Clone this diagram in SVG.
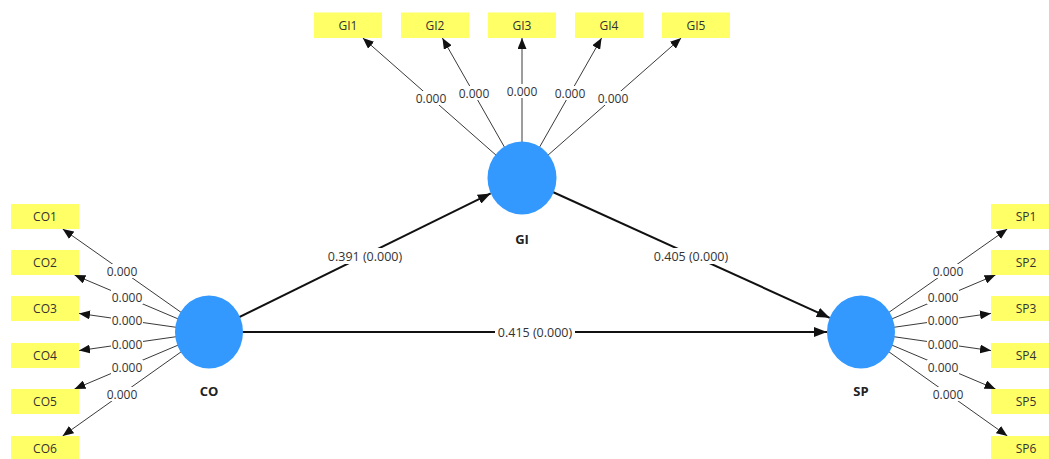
<svg xmlns="http://www.w3.org/2000/svg" width="1049" height="459" viewBox="0 0 1049 459">
<style>
.ind{fill:#ffff66}
.ind-t{font-family:"Open Sans","Noto Sans",sans-serif;font-size:12px;fill:#333;text-anchor:middle;dominant-baseline:central}
.lv{fill:#3399ff}
.lv-t{font-family:"Open Sans","Noto Sans",sans-serif;font-size:13px;font-weight:bold;fill:#222;text-anchor:middle;dominant-baseline:central}
.thin{stroke:#3a3a3a;stroke-width:1;fill:none;marker-end:url(#ah)}
.thick{stroke:#111;stroke-width:2;fill:none;marker-end:url(#ahb)}
.lbl{font-family:"Open Sans","Noto Sans",sans-serif;font-size:12px;fill:#333;text-anchor:middle;dominant-baseline:central}
.plbl{font-family:"Open Sans","Noto Sans",sans-serif;font-size:12.5px;fill:#333;text-anchor:middle;dominant-baseline:central}
.bg{fill:#fff}
</style>
<defs>
<marker id="ah" markerUnits="userSpaceOnUse" markerWidth="11" markerHeight="9" refX="11" refY="4.5" orient="auto">
<path d="M0,0 L11,4.5 L0,9 z" fill="#111"/>
</marker>
<marker id="ahb" markerUnits="userSpaceOnUse" markerWidth="13" markerHeight="10" refX="13" refY="5" orient="auto">
<path d="M0,0 L13,5 L0,10 z" fill="#111"/>
</marker>
</defs>
<rect width="1049" height="459" fill="#fff"/>
<g id="connectors">
<!-- CO indicators -->
<line class="thin" x1="209" y1="332" x2="62.7" y2="229"/>
<line class="thin" x1="209" y1="332" x2="74.5" y2="275"/>
<line class="thin" x1="209" y1="332" x2="79" y2="313.4"/>
<line class="thin" x1="209" y1="332" x2="79" y2="350.6"/>
<line class="thin" x1="209" y1="332" x2="74.5" y2="389"/>
<line class="thin" x1="209" y1="332" x2="62.6" y2="436"/>
<!-- GI indicators -->
<line class="thin" x1="522" y1="178" x2="362.8" y2="38"/>
<line class="thin" x1="522" y1="178" x2="442.4" y2="38"/>
<line class="thin" x1="522" y1="178" x2="522" y2="38"/>
<line class="thin" x1="522" y1="178" x2="601.6" y2="38"/>
<line class="thin" x1="522" y1="178" x2="681.2" y2="38"/>
<!-- SP indicators -->
<line class="thin" x1="861" y1="332" x2="1007.3" y2="229"/>
<line class="thin" x1="861" y1="332" x2="995.5" y2="275"/>
<line class="thin" x1="861" y1="332" x2="991" y2="313.4"/>
<line class="thin" x1="861" y1="332" x2="991" y2="350.6"/>
<line class="thin" x1="861" y1="332" x2="995.5" y2="389"/>
<line class="thin" x1="861" y1="332" x2="1007.4" y2="436"/>
<!-- structural -->
<line class="thick" x1="209" y1="332" x2="490.7" y2="193.4"/>
<line class="thick" x1="522" y1="178" x2="829.7" y2="317.8"/>
<line class="thick" x1="209" y1="332" x2="827" y2="332"/>
<!-- indicator labels -->
<g>
<rect class="bg" x="106" y="264" width="32" height="14"/><text class="lbl" x="122" y="271">0.000</text>
<rect class="bg" x="111" y="290" width="32" height="14"/><text class="lbl" x="127" y="297.5">0.000</text>
<rect class="bg" x="111" y="314" width="32" height="14"/><text class="lbl" x="127" y="320.5">0.000</text>
<rect class="bg" x="111" y="337" width="32" height="14"/><text class="lbl" x="127" y="344">0.000</text>
<rect class="bg" x="111" y="360" width="32" height="14"/><text class="lbl" x="127" y="367">0.000</text>
<rect class="bg" x="106" y="387" width="32" height="14"/><text class="lbl" x="122" y="394">0.000</text>

<rect class="bg" x="932" y="264" width="32" height="14"/><text class="lbl" x="948" y="271">0.000</text>
<rect class="bg" x="927" y="290" width="32" height="14"/><text class="lbl" x="943" y="297.5">0.000</text>
<rect class="bg" x="927" y="314" width="32" height="14"/><text class="lbl" x="943" y="320.5">0.000</text>
<rect class="bg" x="927" y="337" width="32" height="14"/><text class="lbl" x="943" y="344">0.000</text>
<rect class="bg" x="927" y="360" width="32" height="14"/><text class="lbl" x="943" y="367">0.000</text>
<rect class="bg" x="932" y="387" width="32" height="14"/><text class="lbl" x="948" y="394">0.000</text>

<rect class="bg" x="415" y="91" width="32" height="14"/><text class="lbl" x="431" y="98">0.000</text>
<rect class="bg" x="458" y="86" width="32" height="14"/><text class="lbl" x="474" y="93">0.000</text>
<rect class="bg" x="506" y="84" width="32" height="14"/><text class="lbl" x="522" y="91">0.000</text>
<rect class="bg" x="554" y="86" width="32" height="14"/><text class="lbl" x="570" y="93">0.000</text>
<rect class="bg" x="597" y="91" width="32" height="14"/><text class="lbl" x="613" y="98">0.000</text>
</g>
<!-- path labels -->
<g>
<rect class="bg" x="326" y="248" width="78" height="16"/><text class="plbl" x="365" y="256">0.391 (0.000)</text>
<rect class="bg" x="652" y="248" width="78" height="16"/><text class="plbl" x="691" y="256">0.405 (0.000)</text>
<rect class="bg" x="495" y="324" width="80" height="16"/><text class="plbl" x="535" y="332">0.415 (0.000)</text>
</g>
</g>
<g id="CO"><ellipse class="lv" cx="209" cy="332" rx="34" ry="36.5"/><text class="lv-t" x="209" y="391">CO</text></g>
<g id="GI"><ellipse class="lv" cx="522" cy="178" rx="34.5" ry="36.5"/><text class="lv-t" x="522" y="239">GI</text></g>
<g id="SP"><ellipse class="lv" cx="861" cy="332" rx="34" ry="36.5"/><text class="lv-t" x="861" y="391">SP</text></g>
<g id="CO1"><rect class="ind" x="11" y="204" width="68" height="25"/><text class="ind-t" x="45" y="216.5">CO1</text></g>
<g id="CO2"><rect class="ind" x="11" y="250" width="68" height="25"/><text class="ind-t" x="45" y="262.5">CO2</text></g>
<g id="CO3"><rect class="ind" x="11" y="296" width="68" height="25"/><text class="ind-t" x="45" y="308.5">CO3</text></g>
<g id="CO4"><rect class="ind" x="11" y="343" width="68" height="25"/><text class="ind-t" x="45" y="355.5">CO4</text></g>
<g id="CO5"><rect class="ind" x="11" y="389" width="68" height="25"/><text class="ind-t" x="45" y="401.5">CO5</text></g>
<g id="CO6"><rect class="ind" x="11" y="436" width="68" height="25"/><text class="ind-t" x="45" y="448.5">CO6</text></g>
<g id="GI1"><rect class="ind" x="314" y="12.5" width="68" height="25.5"/><text class="ind-t" x="348" y="25">GI1</text></g>
<g id="GI2"><rect class="ind" x="401" y="12.5" width="68" height="25.5"/><text class="ind-t" x="435" y="25">GI2</text></g>
<g id="GI3"><rect class="ind" x="488" y="12.5" width="68" height="25.5"/><text class="ind-t" x="522" y="25">GI3</text></g>
<g id="GI4"><rect class="ind" x="575" y="12.5" width="68" height="25.5"/><text class="ind-t" x="609" y="25">GI4</text></g>
<g id="GI5"><rect class="ind" x="662" y="12.5" width="68" height="25.5"/><text class="ind-t" x="696" y="25">GI5</text></g>
<g id="SP1"><rect class="ind" x="991" y="204" width="68" height="25"/><text class="ind-t" x="1026" y="216.5">SP1</text></g>
<g id="SP2"><rect class="ind" x="991" y="250" width="68" height="25"/><text class="ind-t" x="1026" y="262.5">SP2</text></g>
<g id="SP3"><rect class="ind" x="991" y="296" width="68" height="25"/><text class="ind-t" x="1026" y="308.5">SP3</text></g>
<g id="SP4"><rect class="ind" x="991" y="343" width="68" height="25"/><text class="ind-t" x="1026" y="355.5">SP4</text></g>
<g id="SP5"><rect class="ind" x="991" y="389" width="68" height="25"/><text class="ind-t" x="1026" y="401.5">SP5</text></g>
<g id="SP6"><rect class="ind" x="991" y="436" width="68" height="25"/><text class="ind-t" x="1026" y="448.5">SP6</text></g>
</svg>
